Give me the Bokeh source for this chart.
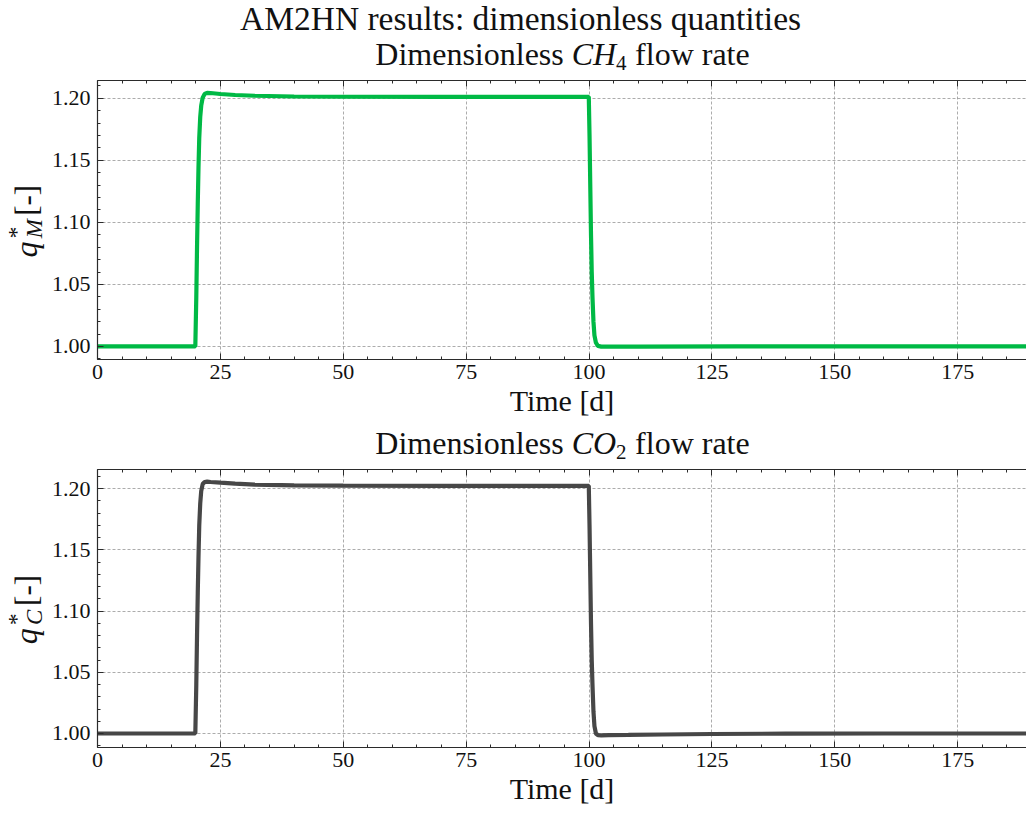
import math
from bokeh.plotting import figure
from bokeh.layouts import column, row
from bokeh.models import (SingleIntervalTicker, LinearAxis, Range1d,
                          PrintfTickFormatter, CustomJSTickFormatter)
from bokeh.core.properties import value
from bokeh.embed import file_html
from bokeh.resources import INLINE

# ---------------- data ----------------
time_ch4 = [0, 10, 19.9, 20.1, 20.25, 20.4, 20.55, 20.7, 20.9, 21.1, 21.4, 21.8,
            22.3, 23, 25, 28, 32, 40, 50, 70, 99.95, 100.1, 100.25, 100.4, 100.55,
            100.7, 100.9, 101.1, 101.4, 101.8, 102.5, 110, 130, 160, 189]
q_ch4 = [1.0, 1.0, 1.0, 1.04, 1.08, 1.115, 1.145, 1.168, 1.185, 1.194, 1.2005, 1.2035,
         1.2044, 1.2042, 1.2034, 1.2026, 1.2020, 1.2014, 1.2012, 1.2011, 1.2011, 1.17, 1.13,
         1.09, 1.06, 1.04, 1.02, 1.009, 1.003, 1.0005, 0.9999, 0.9999, 1.0, 1.0, 1.0]

time_co2 = [0, 10, 19.9, 20.1, 20.25, 20.4, 20.55, 20.7, 20.9, 21.1, 21.4, 21.8,
            22.3, 23, 25, 28, 32, 40, 50, 70, 99.95, 100.1, 100.25, 100.4, 100.55,
            100.7, 100.9, 101.1, 101.4, 101.8, 102.5, 104, 108, 115, 125, 140, 160, 189]
q_co2 = [1.0, 1.0, 1.0, 1.04, 1.08, 1.115, 1.145, 1.17, 1.188, 1.198, 1.2038, 1.2055,
         1.2058, 1.2055, 1.2049, 1.2041, 1.2034, 1.2028, 1.2025, 1.2024, 1.2024, 1.17, 1.13,
         1.09, 1.06, 1.04, 1.018, 1.006, 1.0, 0.9987, 0.9985, 0.9986, 0.9988, 0.9992,
         0.9996, 0.9999, 1.0, 1.0]

suptitle = "AM2HN results: dimensionless quantities"
xlabel = "Time [d]"
title_ch4 = ["Dimensionless", "CH", "4", "flow rate"]
title_co2 = ["Dimensionless", "CO", "2", "flow rate"]
ylabel_ch4 = ["q", "*", "M", "[-]"]
ylabel_co2 = ["q", "*", "C", "[-]"]

GREEN = "#00B945"
GREY = "#474747"
FONT = "Liberation Serif"
TXT = "#111111"

W = 1026
YLAB_W = 48          # width of the strip holding the rotated y label
FL = 95              # window x of the plot frame's left edge
X_RANGE = (0, 189)
BASE_SHIFT = 0.36    # empirical offset of the rendered baseline (fraction of size)
ALONG_SHIFT = 0.9    # empirical offset of rotated text along its direction


def text_fig(w, h):
    f = figure(width=w, height=h, x_range=Range1d(0, w), y_range=Range1d(h, 0),
               output_backend="svg", toolbar_location=None,
               x_axis_type=None, y_axis_type=None,
               min_border_left=0, min_border_right=0, min_border_top=0,
               min_border_bottom=0)
    f.outline_line_color = None
    f.grid.visible = False
    return f


def put(f, text, x, y, size, style="normal", align="left", angle=0.0):
    f.text(x=[x], y=[y], text=[text], text_font=value(FONT),
           text_font_size=value(f"{size}px"), text_font_style=value(style),
           text_align=value(align), text_baseline=value("alphabetic"),
           text_color=TXT, angle=angle)


def put_h(f, text, x, baseline, size, style="normal", align="left"):
    put(f, text, x, baseline - BASE_SHIFT * size, size, style, align)


def put_v(f, text, baseline_x, y_start, size, style="normal"):
    put(f, text, baseline_x - BASE_SHIFT * size, y_start + ALONG_SHIFT * size,
        size, style, "left", math.pi / 2)


def style_axis(ax, standoff, labels=True):
    ax.axis_line_color = "#2b2b2b"
    ax.axis_line_width = 1.2
    ax.major_tick_in = 6
    ax.major_tick_out = 0
    ax.minor_tick_in = 3
    ax.minor_tick_out = 0
    ax.major_tick_line_color = "#2b2b2b"
    ax.minor_tick_line_color = "#2b2b2b"
    ax.major_label_text_font = FONT
    ax.major_label_text_font_size = "22px"
    ax.major_label_text_color = TXT
    ax.major_label_standoff = standoff
    if not labels:
        ax.formatter = CustomJSTickFormatter(code="return ''")
        ax.major_label_text_font_size = "0px"


def make_panel(t, q, color, y_range, height, top_border, bottom_border):
    p = figure(width=W - YLAB_W, height=height, x_range=X_RANGE, y_range=y_range,
               output_backend="svg", toolbar_location=None,
               min_border_left=FL - YLAB_W, min_border_right=0,
               min_border_top=top_border, min_border_bottom=bottom_border)
    p.outline_line_color = None

    xt = SingleIntervalTicker(interval=25, num_minor_ticks=5)
    yt = SingleIntervalTicker(interval=0.05, num_minor_ticks=5)
    p.xaxis.ticker = xt
    p.yaxis.ticker = yt
    p.yaxis.formatter = PrintfTickFormatter(format="%.2f")
    style_axis(p.xaxis[0], 5)
    style_axis(p.yaxis[0], 7)
    p.xaxis.axis_label = xlabel
    p.xaxis.axis_label_text_font = FONT
    p.xaxis.axis_label_text_font_size = "30px"
    p.xaxis.axis_label_text_font_style = "normal"
    p.xaxis.axis_label_text_color = TXT
    p.xaxis.axis_label_standoff = 2

    top_ax = LinearAxis(ticker=SingleIntervalTicker(interval=25, num_minor_ticks=5))
    style_axis(top_ax, 0, labels=False)
    p.add_layout(top_ax, "above")

    p.xgrid.ticker = xt
    p.ygrid.ticker = yt
    for g in (p.xgrid[0], p.ygrid[0]):
        g.grid_line_color = "#8c8c8c"
        g.grid_line_dash = "3 2"
        g.grid_line_width = 0.8
        g.grid_line_alpha = 0.9

    p.line(t, q, line_color=color, line_width=4.2)
    return p


def add_title(f, parts, baseline):
    F = 32
    x0 = 562 - 374.4 / 2
    put_h(f, parts[0], x0, baseline, F)
    put_h(f, parts[1], x0 + 196.4, baseline, F, "italic")
    put_h(f, parts[2], x0 + 240.8, baseline + 5, 21)
    put_h(f, parts[3], x0 + 259.8, baseline, F)


def ylabel_fig(parts, height, frame_top, frame_h):
    f = text_fig(YLAB_W, height)
    cy = frame_top + frame_h / 2 + 8
    bx = 37
    FQ, FS, FB = 32, 23, 31
    q_w = 0.5 * FQ
    sub_w = (0.833 if parts[2] == "M" else 0.667) * FS
    gap = 16
    total = q_w + sub_w + gap + FB
    start = cy + total / 2
    put_v(f, parts[0], bx, start, FQ, "italic")
    put_v(f, parts[1], bx - 13, start - q_w, FS)
    put_v(f, parts[2], bx + 5, start - q_w, FS, "italic")
    put_v(f, parts[3], bx, start - q_w - sub_w - gap, FB)
    return f


# ---------------- layout ----------------
H_HEAD1 = 76
H_ROW1 = 349
H_HEAD2 = 39
H_ROW2 = 814 - H_HEAD1 - H_ROW1 - H_HEAD2

head1 = text_fig(W, H_HEAD1)
put_h(head1, suptitle, 520, 30, 33.5, align="center")
add_title(head1, title_ch4, 65)

p1 = make_panel(time_ch4, q_ch4, GREEN, (0.9895, 1.2143), H_ROW1, 4, 66)
y1 = ylabel_fig(ylabel_ch4, H_ROW1, 4, H_ROW1 - 4 - 66)

head2 = text_fig(W, H_HEAD2)
add_title(head2, title_co2, 454.5 - (H_HEAD1 + H_ROW1))

p2 = make_panel(time_co2, q_co2, GREY, (0.98856, 1.2157), H_ROW2, 5, 67)
y2 = ylabel_fig(ylabel_co2, H_ROW2, 5, H_ROW2 - 5 - 67)

layout = column(head1, row(y1, p1, spacing=0), head2, row(y2, p2, spacing=0),
                spacing=0)
open("out.html", "w").write(file_html(layout, INLINE))
